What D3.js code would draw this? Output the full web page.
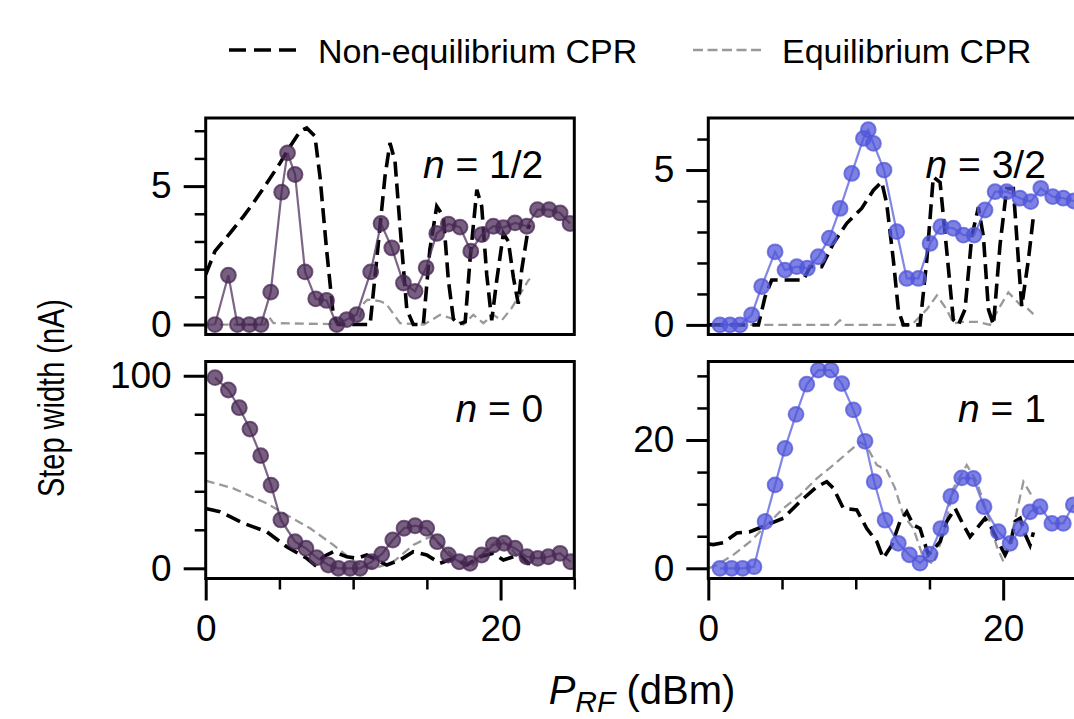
<!DOCTYPE html>
<html>
<head>
<meta charset="utf-8">
<script src="https://cdn.jsdelivr.net/npm/d3@7.9.0/dist/d3.min.js"></script>
<style>
  body { margin: 0; background: #fff; }
  svg { display: block; font-family: "Liberation Sans", Arial, sans-serif; }
</style>
</head>
<body>
<svg id="chart" width="1074" height="719"></svg>
<script>
// measured step widths (markers) and simulated CPR curves, [P_RF dBm, step width nA]
const halfMeas = [[0.63,0],[1.54,1.78],[2.15,0],[2.96,0],[3.75,0],[4.41,1.17],[5.15,4.78],[5.55,6.2],[6.06,5.42],
  [6.74,1.9],[7.46,0.93],[8.2,0.87],[8.89,0],[9.57,0.18],[10.24,0.36],[11.19,1.9],[11.89,3.65],[12.62,2.77],
  [13.41,1.5],[14.2,1.2],[14.95,2.05],[15.67,3.29],[16.46,3.63],[17.25,3.52],[17.98,2.65],[18.72,3.25],
  [19.51,3.55],[20.19,3.5],[20.98,3.67],[21.78,3.55],[22.5,4.15],[23.29,4.15],[24.04,4.03],[24.71,3.65]];
const halfNonEq = [[0,1.8],[0.63,2.65],[1.65,3.3],[2.55,3.9],[3.23,4.39],[4.14,5.1],[5.04,5.83],[5.72,6.43],
  [6.4,6.98],[6.85,7.1],[7.41,6.8],[7.75,5.35],[8.2,2.7],[8.66,0.3],[9.0,0],[11.15,0],[11.6,2.35],[12.16,5.35],
  [12.5,6.56],[12.84,5.9],[13.18,3.55],[13.64,0.54],[14.08,0],[14.76,0],[15.2,2.7],[15.67,4.27],[16.12,3.9],
  [16.46,1.6],[16.8,0.2],[17.14,0],[17.6,0.1],[17.93,2.35],[18.39,4.87],[18.72,4.27],[19.06,1.8],[19.4,0.15],
  [19.74,1.6],[20.19,3.29],[20.53,3.0],[20.87,1.7],[21.2,0.75],[21.44,2.0],[21.89,3.52],[22.0,3.6]];
const halfEq = [[0,0],[4.0,0],[4.25,0.3],[4.6,0.05],[10.3,0],[10.74,0.78],[10.97,0.9],[11.8,0.85],[12.24,0.75],
  [13.18,0.05],[14.8,0],[15.44,0.2],[15.9,0.35],[16.8,0.2],[17.48,0],[18.15,0.35],[18.83,0.05],[19.5,0.35],
  [20.08,0.15],[20.76,0.6],[21.32,1.1],[21.89,1.6],[22.0,1.65]];

const threeHalfMeas = [[0.79,0],[1.47,0],[2.15,0],[2.94,0.32],[3.62,1.24],[4.53,2.36],[5.2,1.77],[6.0,1.88],
  [6.72,1.83],[7.46,2.2],[8.21,2.8],[8.94,3.76],[9.73,4.89],[10.52,6.02],[10.85,6.3],[11.2,5.86],[11.92,5.0],
  [12.78,3.01],[13.46,1.5],[14.25,1.5],[15.04,2.63],[15.77,3.17],[16.62,3.12],[17.3,2.9],[18.03,2.9],
  [18.77,3.71],[19.45,4.3],[20.24,4.3],[21.14,4.09],[21.87,3.98],[22.55,4.41],[23.36,4.14],[24.08,4.09],[24.8,4.0]];
const threeHalfNonEq = [[0,0],[3.4,0],[3.85,0.91],[4.3,1.45],[6.45,1.45],[6.9,1.88],[7.69,1.88],[8.48,2.63],
  [9.39,3.28],[10.4,3.76],[11.2,4.35],[11.76,4.62],[12.1,3.92],[12.55,2.1],[12.89,0.48],[13.23,0],[14.36,0],
  [14.82,2.1],[15.26,4.78],[15.72,4.6],[16.17,2.4],[16.62,0.16],[16.96,0],[17.41,0.5],[17.87,2.85],[18.32,3.8],
  [18.66,2.85],[19.0,0.5],[19.34,0],[19.79,2.6],[20.24,4.4],[20.69,4.4],[21.03,2.1],[21.26,0.6],[21.71,2.1],[22.05,3.5]];
const threeHalfEq = [[0,0],[8.6,0],[8.93,0.15],[9.3,0],[13.8,0],[14.82,0.5],[15.5,0.95],[16.17,0.5],[16.62,0.05],
  [17.3,0.1],[18.3,0.1],[19.1,0],[19.79,0.6],[20.35,1.05],[21.15,0.65],[21.6,0.55],[22.05,0.35]];

const zeroMeas = [[0.63,99],[1.54,92.6],[2.28,83.4],[3.0,72.3],[3.73,58.5],[4.43,43.2],[5.1,25.1],[6.06,13.8],
  [6.8,10.4],[7.53,5.5],[8.32,1.7],[9.0,0],[9.79,0],[10.47,0],[11.26,3.4],[11.94,7.3],[12.69,14.7],[13.45,20.8],
  [14.2,22.1],[14.99,20.8],[15.71,13.8],[16.46,6.9],[17.2,3.4],[17.93,2.6],[18.72,6.9],[19.51,12.1],[20.24,13.0],
  [20.98,10.4],[21.78,6.0],[22.52,5.2],[23.24,6.0],[24.03,7.8],[24.76,3.4]];
const zeroNonEq = [[0,31],[0.97,29.4],[2.55,23.4],[4.14,19.0],[5.49,11.2],[6.85,5.2],[7.41,1.7],[7.98,6.0],
  [8.66,8.6],[9.57,6.0],[10.24,5.2],[10.92,6.9],[11.6,4.3],[12.28,1.7],[13.18,4.3],[14.08,8.6],[14.99,6.9],
  [15.9,2.6],[16.8,5.2],[17.71,1.7],[18.61,6.0],[19.51,7.8],[20.19,4.3],[20.87,6.0],[21.32,6.9],[21.89,2.6],[22.0,2.4]];
const zeroEq = [[0,45.5],[1.87,41.5],[4.14,33.7],[5.49,27.7],[7.08,20.8],[8.66,12.1],[9.79,5.2],[10.69,0.8],
  [11.6,0.3],[12.73,3.4],[14.08,12.1],[15.22,16.4],[16.12,11.2],[17.25,3.4],[18.15,1.7],[19.06,10.4],[19.97,15.6],
  [20.64,11.2],[21.32,4.3],[21.89,1.7],[22.0,1.6]];

const oneMeas = [[0.79,0],[1.59,0],[2.33,0],[3.1,0.25],[3.85,7.3],[4.53,13.0],[5.2,18.7],[5.95,24.0],[6.68,28.7],
  [7.46,30.9],[8.32,30.9],[9.05,28.8],[9.84,24.7],[10.63,19.8],[11.25,13.5],[11.99,7.5],[12.89,3.9],[13.64,2.1],
  [14.36,0.8],[15.04,2.2],[15.77,6.2],[16.45,11.2],[17.19,14.1],[17.98,14.0],[18.7,9.6],[19.67,5.7],[20.47,3.9],
  [21.19,6.2],[21.82,8.8],[22.5,9.6],[23.3,7.0],[24.08,7.0],[24.76,9.9]];
const oneNonEq = [[0,3.8],[0.34,3.7],[1.02,4.0],[1.93,5.5],[2.83,5.7],[3.96,6.75],[5.09,7.8],[6.22,10.4],
  [7.35,12.7],[8.03,13.5],[8.48,12.5],[9.16,9.35],[10.07,9.1],[10.75,6.2],[11.43,4.15],[11.87,1.56],[12.44,3.6],
  [13.0,7.3],[13.46,8.8],[13.91,6.75],[14.36,6.2],[14.93,2.1],[15.26,2.9],[15.72,4.15],[16.17,7.3],[16.74,9.35],
  [17.3,6.75],[17.75,4.9],[18.21,6.2],[18.77,7.8],[19.23,6.2],[19.79,3.6],[20.13,2.1],[20.47,3.6],[20.81,7.3],
  [21.15,7.8],[21.49,5.3],[21.82,3.6],[22.05,5.6]];
const oneEq = [[0,0],[0.57,0.5],[1.7,2.1],[2.83,4.15],[3.96,6.75],[5.09,9.35],[6.22,11.4],[7.35,14.0],[8.48,16.1],
  [9.39,17.9],[10.29,19.7],[10.75,19.0],[11.43,16.1],[12.1,15.3],[12.66,12.5],[13.23,8.3],[13.91,6.2],[14.59,1.56],
  [15.26,0.7],[15.94,5.2],[16.62,12.5],[17.53,16.1],[18.21,13.5],[18.89,8.8],[19.57,3.4],[20.02,1.0],[20.58,5.2],
  [21.37,13.5],[22.05,10.9]];

const xMajor = [0, 20];
const xMinor = [5, 10, 15, 25];
const panelLabels = ['1/2', '3/2', '0', '1'];
const legendLabels = ['Non-equilibrium CPR', 'Equilibrium CPR'];

const purple = '#4a2a56';
const blue = '#5257da';

const panels = [
  { meas: halfMeas, neq: halfNonEq, eq: halfEq, color: purple, label: panelLabels[0],
    x0: 205.7, top: 118, bottom: 334.5, yDom: [-0.36, 7.46], major: [0, 5], minor: [1, 2, 3, 4, 6, 7], xAxis: false },
  { meas: threeHalfMeas, neq: threeHalfNonEq, eq: threeHalfEq, color: blue, label: panelLabels[1],
    x0: 708.3, top: 118, bottom: 334.5, yDom: [-0.31, 6.68], major: [0, 5], minor: [1, 2, 3, 4, 6], xAxis: false },
  { meas: zeroMeas, neq: zeroNonEq, eq: zeroEq, color: purple, label: panelLabels[2],
    x0: 205.7, top: 361.5, bottom: 578.5, yDom: [-5.3, 107.4], major: [0, 100], minor: [20, 40, 60, 80], xAxis: true },
  { meas: oneMeas, neq: oneNonEq, eq: oneEq, color: blue, label: panelLabels[3],
    x0: 708.3, top: 361.5, bottom: 578.5, yDom: [-1.59, 32.24], major: [0, 20], minor: [5, 10, 15, 25, 30], xAxis: true }
];
const panelW = 368.6;

const svg = d3.select('#chart');

panels.forEach((p, i) => {
  const x = d3.scaleLinear().domain([0, 25]).range([p.x0, p.x0 + panelW]);
  const y = d3.scaleLinear().domain(p.yDom).range([p.bottom, p.top]);
  const g = svg.append('g');

  const clipId = 'clip' + i;
  g.append('clipPath').attr('id', clipId).append('rect')
    .attr('x', p.x0).attr('y', p.top).attr('width', panelW).attr('height', p.bottom - p.top);

  const plot = g.append('g').attr('clip-path', `url(#${clipId})`);
  const line = d3.line().x(d => x(d[0])).y(d => y(d[1]));

  // equilibrium CPR (grey), non-equilibrium CPR (black)
  plot.append('path').datum(p.eq).attr('d', line)
    .attr('fill', 'none').attr('stroke', '#999').attr('stroke-width', 2.3).attr('stroke-dasharray', '9,5');
  plot.append('path').datum(p.neq).attr('d', line)
    .attr('fill', 'none').attr('stroke', '#000').attr('stroke-width', 3.6).attr('stroke-dasharray', '15,7');

  // measurement
  plot.append('path').datum(p.meas).attr('d', line)
    .attr('fill', 'none').attr('stroke', p.color).attr('stroke-opacity', 0.72).attr('stroke-width', 2.2);
  plot.selectAll('circle.m').data(p.meas).join('circle').attr('class', 'm')
    .attr('cx', d => x(d[0])).attr('cy', d => y(d[1])).attr('r', 7.4)
    .attr('fill', p.color).attr('fill-opacity', 0.75)
    .attr('stroke', p.color).attr('stroke-opacity', 0.75).attr('stroke-width', 2);

  // frame
  g.append('rect').attr('x', p.x0).attr('y', p.top).attr('width', panelW).attr('height', p.bottom - p.top)
    .attr('fill', 'none').attr('stroke', '#000').attr('stroke-width', 3);

  // y axis
  const yMaj = g.append('g').attr('transform', `translate(${p.x0},0)`)
    .call(d3.axisLeft(y).tickValues(p.major).tickSize(22).tickPadding(12).tickFormat(d3.format('d')));
  yMaj.select('.domain').remove();
  yMaj.selectAll('line').attr('stroke-width', 3);
  yMaj.selectAll('text').attr('font-size', 37).attr('font-family', null).attr('fill', '#000');
  const yMin = g.append('g').attr('transform', `translate(${p.x0},0)`)
    .call(d3.axisLeft(y).tickValues(p.minor).tickSize(11).tickFormat(''));
  yMin.select('.domain').remove();
  yMin.selectAll('line').attr('stroke-width', 2.5);

  if (p.xAxis) {
    const xMaj = g.append('g').attr('transform', `translate(0,${p.bottom})`)
      .call(d3.axisBottom(x).tickValues(xMajor).tickSize(22).tickPadding(14).tickFormat(d3.format('d')));
    xMaj.select('.domain').remove();
    xMaj.selectAll('line').attr('stroke-width', 3);
    xMaj.selectAll('text').attr('font-size', 37).attr('font-family', null).attr('fill', '#000');
    const xMin = g.append('g').attr('transform', `translate(0,${p.bottom})`)
      .call(d3.axisBottom(x).tickValues(xMinor).tickSize(11).tickFormat(''));
    xMin.select('.domain').remove();
    xMin.selectAll('line').attr('stroke-width', 2.5);
  }

  // panel label
  const t = g.append('text').attr('x', p.x0 + panelW - 31).attr('y', p.top + 60)
    .attr('text-anchor', 'end').attr('font-size', 39);
  t.append('tspan').attr('font-style', 'italic').text('n');
  t.append('tspan').text(' = ' + p.label);
});

// axis labels
svg.append('text').attr('transform', 'translate(64,398) rotate(-90)').attr('text-anchor', 'middle')
  .attr('font-size', 37).attr('textLength', 198).attr('lengthAdjust', 'spacingAndGlyphs')
  .text('Step width (nA)');
const xl = svg.append('text').attr('x', 642).attr('y', 704).attr('text-anchor', 'middle').attr('font-size', 40);
xl.append('tspan').attr('font-style', 'italic').text('P');
xl.append('tspan').attr('font-style', 'italic').attr('font-size', 30).attr('dy', 8).text('RF');
xl.append('tspan').attr('dy', -8).text(' (dBm)');

// legend
const legend = svg.append('g');
const legendStyles = [
  { x1: 229, x2: 298, tx: 318, stroke: '#000', w: 3.6, dash: '17,8' },
  { x1: 693, x2: 762, tx: 782, stroke: '#999', w: 2.3, dash: '10,4.5' }
];
legendLabels.forEach((lab, i) => {
  const s = legendStyles[i];
  legend.append('line').attr('x1', s.x1).attr('x2', s.x2).attr('y1', 50).attr('y2', 50)
    .attr('stroke', s.stroke).attr('stroke-width', s.w).attr('stroke-dasharray', s.dash);
  legend.append('text').attr('x', s.tx).attr('y', 63).attr('font-size', 34).text(lab);
});
</script>
</body>
</html>
